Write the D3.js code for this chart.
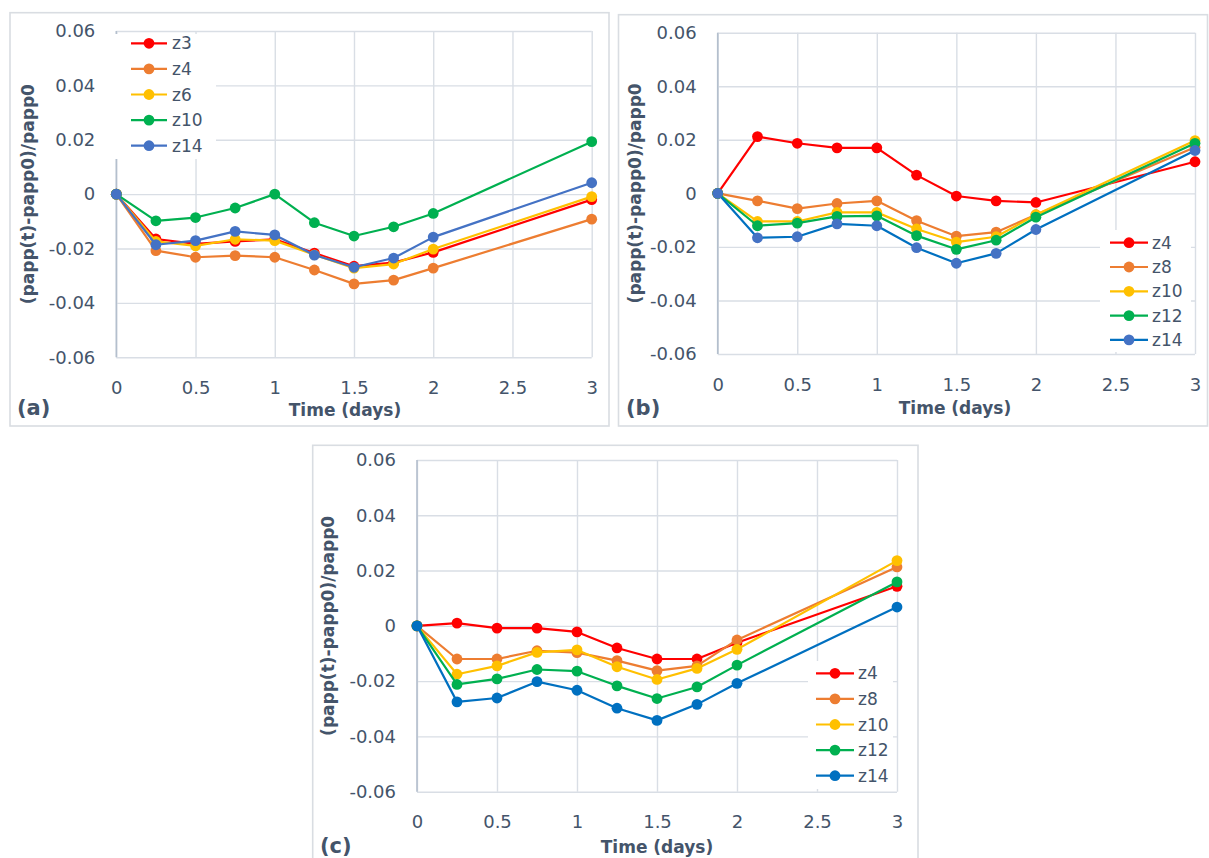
<!DOCTYPE html>
<html>
<head>
<meta charset="utf-8">
<script src="https://cdn.jsdelivr.net/npm/d3@7"></script>
<style>
  html, body { margin: 0; padding: 0; background: #ffffff; }
  svg { display: block; }
</style>
</head>
<body>
<svg id="chart" width="1209" height="858"></svg>
<script>
// ---------- DATA ----------
const times = [0, 0.25, 0.5, 0.75, 1, 1.25, 1.5, 1.75, 2, 3];
const xTickValues = [0, 0.5, 1, 1.5, 2, 2.5, 3];
const xTickLabels = ["0", "0.5", "1", "1.5", "2", "2.5", "3"];
const yTickValues = [-0.06, -0.04, -0.02, 0, 0.02, 0.04, 0.06];
const yTickLabels = ["-0.06", "-0.04", "-0.02", "0", "0.02", "0.04", "0.06"];
const xTitle = "Time (days)";
const yTitle = "(papp(t)-papp0)/papp0";

// panel (a)
const aNames = ["z3", "z4", "z6", "z10", "z14"];
const a_z3  = [0, -0.0165, -0.0183, -0.0174, -0.0166, -0.0217, -0.0265, -0.0252, -0.0214, -0.0020];
const a_z4  = [0, -0.0208, -0.0232, -0.0226, -0.0232, -0.0279, -0.0330, -0.0316, -0.0272, -0.0092];
const a_z6  = [0, -0.0174, -0.0190, -0.0166, -0.0171, -0.0223, -0.0272, -0.0257, -0.0202, -0.0009];
const a_z10 = [0, -0.0098, -0.0086, -0.0051, 0.0000, -0.0105, -0.0154, -0.0120, -0.0071, 0.0193];
const a_z14 = [0, -0.0186, -0.0171, -0.0137, -0.0150, -0.0224, -0.0269, -0.0235, -0.0158, 0.0042];

// panel (b)
const bNames = ["z4", "z8", "z10", "z12", "z14"];
const b_z4  = [0, 0.0212, 0.0187, 0.0170, 0.0170, 0.0068, -0.0010, -0.0028, -0.0034, 0.0118];
const b_z8  = [0, -0.0028, -0.0057, -0.0038, -0.0028, -0.0102, -0.0160, -0.0145, -0.0080, 0.0172];
const b_z10 = [0, -0.0105, -0.0105, -0.0071, -0.0071, -0.0133, -0.0182, -0.0162, -0.0080, 0.0197];
const b_z12 = [0, -0.0121, -0.0111, -0.0086, -0.0084, -0.0158, -0.0209, -0.0175, -0.0089, 0.0187];
const b_z14 = [0, -0.0166, -0.0162, -0.0114, -0.0121, -0.0203, -0.0261, -0.0224, -0.0135, 0.0160];

// panel (c)
const cNames = ["z4", "z8", "z10", "z12", "z14"];
const c_z4  = [0, 0.0010, -0.0008, -0.0008, -0.0022, -0.0080, -0.0120, -0.0120, -0.0061, 0.0143];
const c_z8  = [0, -0.0120, -0.0120, -0.0090, -0.0097, -0.0126, -0.0162, -0.0145, -0.0051, 0.0213];
const c_z10 = [0, -0.0175, -0.0145, -0.0096, -0.0087, -0.0148, -0.0194, -0.0154, -0.0085, 0.0236];
const c_z12 = [0, -0.0212, -0.0192, -0.0158, -0.0164, -0.0217, -0.0263, -0.0221, -0.0142, 0.0159];
const c_z14 = [0, -0.0275, -0.0261, -0.0202, -0.0233, -0.0298, -0.0342, -0.0284, -0.0208, 0.0068];

// ---------- STYLE ----------
const RED = "#FF0000", ORANGE = "#ED7D31", YELLOW = "#FFC000", GREEN = "#00B050",
      BLUE = "#4472C4", DBLUE = "#0070C0";
const TEXT = "#44546A";
const GRID = "#D9DEE5";
const AXIS = "#B4BFCD";
const BORDER = "#D9DDE2";
const FONT = "'DejaVu Sans', sans-serif";

const svg = d3.select("#chart");

const panels = [
  {
    label: "(a)", border: [10, 12.7, 609, 426],
    plot: { l: 116.3, r: 591.7, t: 31, b: 357.3 },
    series: [
      { name: aNames[0], v: a_z3,  line: RED,    mark: RED },
      { name: aNames[1], v: a_z4,  line: ORANGE, mark: ORANGE },
      { name: aNames[2], v: a_z6,  line: YELLOW, mark: YELLOW },
      { name: aNames[3], v: a_z10, line: GREEN,  mark: GREEN },
      { name: aNames[4], v: a_z14, line: BLUE,   mark: BLUE }
    ],
    legend: { box: [113, 34, 216, 159], lx0: 131, lx1: 167, tx: 172, y0: 43.3, dy: 25.6 },
    labelX: 17, labelY: 407, yTitleX: 28, xTitleX: 345, xTitleY: 410
  },
  {
    label: "(b)", border: [618.5, 14.7, 1207.5, 426],
    plot: { l: 717.7, r: 1195, t: 32.7, b: 354 },
    series: [
      { name: bNames[0], v: b_z4,  line: RED,    mark: RED },
      { name: bNames[1], v: b_z8,  line: ORANGE, mark: ORANGE },
      { name: bNames[2], v: b_z10, line: YELLOW, mark: YELLOW },
      { name: bNames[3], v: b_z12, line: GREEN,  mark: GREEN },
      { name: bNames[4], v: b_z14, line: DBLUE,  mark: BLUE }
    ],
    legend: { box: [1100, 230, 1191, 352], lx0: 1110, lx1: 1148, tx: 1152, y0: 242.7, dy: 24.3 },
    labelX: 626, labelY: 407, yTitleX: 635, xTitleX: 955, xTitleY: 408
  },
  {
    label: "(c)", border: [312.7, 445.3, 918, 860],
    plot: { l: 417, r: 897, t: 460, b: 791.7 },
    series: [
      { name: cNames[0], v: c_z4,  line: RED,    mark: RED },
      { name: cNames[1], v: c_z8,  line: ORANGE, mark: ORANGE },
      { name: cNames[2], v: c_z10, line: YELLOW, mark: YELLOW },
      { name: cNames[3], v: c_z12, line: GREEN,  mark: GREEN },
      { name: cNames[4], v: c_z14, line: DBLUE,  mark: DBLUE }
    ],
    legend: { box: [808, 661, 893, 789], lx0: 816, lx1: 854, tx: 858, y0: 673.3, dy: 25.6 },
    labelX: 320, labelY: 845, yTitleX: 328, xTitleX: 657, xTitleY: 846.6
  }
];

panels.forEach(drawPanel);

function drawPanel(p) {
  const g = svg.append("g");
  const [bx0, by0, bx1, by1] = p.border;
  g.append("rect")
    .attr("x", bx0).attr("y", by0)
    .attr("width", bx1 - bx0).attr("height", by1 - by0)
    .attr("fill", "#fff").attr("stroke", BORDER).attr("stroke-width", 1.6);

  const { l, r, t, b } = p.plot;
  const x = d3.scaleLinear().domain([0, 3]).range([l, r]);
  const y = d3.scaleLinear().domain([-0.06, 0.06]).range([b, t]);

  // horizontal gridlines + y labels
  const ya = g.append("g").attr("transform", `translate(${l},0)`)
    .call(d3.axisLeft(y).tickValues(yTickValues)
      .tickSize(-(r - l)).tickPadding(21)
      .tickFormat((d, i) => yTickLabels[i]));
  ya.select(".domain").remove();
  ya.selectAll("line").attr("stroke", GRID).attr("stroke-width", 1.4);
  ya.selectAll("text").attr("fill", TEXT).style("font-family", FONT).style("font-size", "18px");

  // vertical gridlines + x labels
  const xa = g.append("g").attr("transform", `translate(0,${b})`)
    .call(d3.axisBottom(x).tickValues(xTickValues)
      .tickSize(-(b - t)).tickPadding(24)
      .tickFormat((d, i) => xTickLabels[i]));
  xa.select(".domain").remove();
  xa.selectAll("line").attr("stroke", GRID).attr("stroke-width", 1.4);
  xa.selectAll("text").attr("fill", TEXT).style("font-family", FONT).style("font-size", "18px");

  // left axis line
  g.append("line").attr("x1", x(0)).attr("x2", x(0)).attr("y1", y(0.06)).attr("y2", y(-0.06))
    .attr("stroke", AXIS).attr("stroke-width", 1.6);

  // legend background
  const lg = p.legend;
  g.append("rect").attr("x", lg.box[0]).attr("y", lg.box[1])
    .attr("width", lg.box[2] - lg.box[0]).attr("height", lg.box[3] - lg.box[1])
    .attr("fill", "#fff");

  // series
  const line = d3.line().x((d, i) => x(times[i])).y(d => y(d));
  p.series.forEach(s => {
    g.append("path").datum(s.v).attr("d", line)
      .attr("fill", "none").attr("stroke", s.line).attr("stroke-width", 2.2)
      .attr("stroke-linejoin", "round");
    g.selectAll(null).data(s.v).enter().append("circle")
      .attr("cx", (d, i) => x(times[i])).attr("cy", d => y(d))
      .attr("r", 5.4).attr("fill", s.mark);
  });

  // legend entries
  p.series.forEach((s, i) => {
    const ly = lg.y0 + i * lg.dy;
    g.append("line").attr("x1", lg.lx0).attr("x2", lg.lx1).attr("y1", ly).attr("y2", ly)
      .attr("stroke", s.line).attr("stroke-width", 2.2);
    g.append("circle").attr("cx", (lg.lx0 + lg.lx1) / 2).attr("cy", ly).attr("r", 5.4).attr("fill", s.mark);
    g.append("text").attr("x", lg.tx).attr("y", ly).attr("dy", "0.36em")
      .attr("fill", TEXT).style("font-family", FONT).style("font-size", "17px").text(s.name);
  });

  // axis titles
  g.append("text")
    .attr("transform", `translate(${p.yTitleX},${(t + b) / 2}) rotate(-90)`)
    .attr("text-anchor", "middle").attr("dy", "0.36em")
    .attr("fill", TEXT).style("font-family", FONT).style("font-size", "17px").style("font-weight", "bold")
    .text(yTitle);
  g.append("text")
    .attr("x", p.xTitleX).attr("y", p.xTitleY).attr("dy", "0.36em")
    .attr("text-anchor", "middle")
    .attr("fill", TEXT).style("font-family", FONT).style("font-size", "17px").style("font-weight", "bold")
    .text(xTitle);

  // panel label
  g.append("text").attr("x", p.labelX).attr("y", p.labelY).attr("dy", "0.36em")
    .attr("fill", TEXT).style("font-family", FONT).style("font-size", "21px").style("font-weight", "bold")
    .text(p.label);
}
</script>
</body>
</html>
